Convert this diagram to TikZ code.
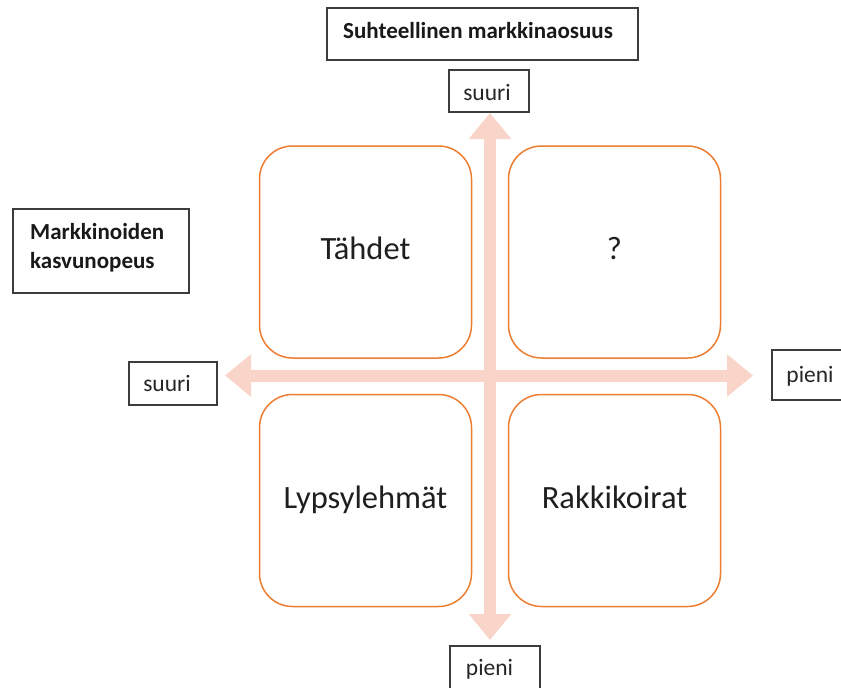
\documentclass[tikz,border=0pt]{standalone}
\usepackage{fontspec}
\setmainfont{Carlito}
\usetikzlibrary{arrows.meta}
\definecolor{acc}{RGB}{237,125,49}
\definecolor{arr}{RGB}{248,213,200}
\definecolor{frame}{RGB}{60,60,60}
\begin{document}
\begin{tikzpicture}[x=1pt,y=-1pt,
  lbox/.style={draw=frame, line width=1.3pt, fill=white, inner sep=0pt},
  qbox/.style={draw=acc, line width=1.5pt, fill=white, rounded corners=33pt,
    minimum width=212pt, minimum height=212pt, inner sep=0pt},
  smalltxt/.style={font=\fontsize{23.5}{28}\selectfont, inner sep=0pt, anchor=base, text=black!85},
  boldtxt/.style={font=\fontsize{23}{29}\selectfont\bfseries, inner sep=0pt, anchor=base west, text=black!90},
  bigtxt/.style={font=\fontsize{32.5}{39}\selectfont, inner sep=0pt, anchor=base, text=black!88},
  axis/.style={draw=arr, line width=12pt,
    {Triangle[length=26pt,width=41pt]}-{Triangle[length=26pt,width=41pt]}}
]
\useasboundingbox (0,0) rectangle (841,688);

% axes
\coordinate (vtop) at (490,113);
\coordinate (vbot) at (490,640);
\coordinate (hleft) at (225,375.5);
\coordinate (hright) at (753,375.5);
\draw[axis] (vbot) -- (vtop);
\draw[axis] (hleft) -- (hright);

% quadrants
\node[qbox] (q1) at (365.5,252) {};
\node[qbox] (q2) at (614.5,252) {};
\node[qbox] (q3) at (365.5,500.5) {};
\node[qbox] (q4) at (614.5,500.5) {};
\node[bigtxt] (t1) at (365.5,259.5) {Tähdet};
\node[bigtxt] (t2) at (614.5,259.5) {?};
\node[bigtxt] (t3) at (365.5,508) {Lypsylehmät};
\node[bigtxt] (t4) at (614.5,508) {Rakkikoirat};

% label boxes
\node[lbox, minimum width=311pt, minimum height=52pt] (titlebox) at (482.5,34) {};
\node[boldtxt] (title) at (343,38) {Suhteellinen markkinaosuus};

\node[lbox, minimum width=176pt, minimum height=84pt] (growbox) at (101,251) {};
\node[boldtxt] (grow1) at (30,239) {Markkinoiden};
\node[boldtxt] (grow2) at (30,268) {kasvunopeus};

\node[lbox, minimum width=80pt, minimum height=42pt] (topbox) at (489,91) {};
\node[smalltxt] (toptxt) at (487,100) {suuri};

\node[lbox, minimum width=88pt, minimum height=43pt] (leftbox) at (173,383.5) {};
\node[smalltxt] (lefttxt) at (167,391) {suuri};

\node[lbox, minimum width=74pt, minimum height=50pt] (rightbox) at (809,375) {};
\node[smalltxt] (righttxt) at (810,382) {pieni};

\node[lbox, minimum width=90pt, minimum height=46pt] (botbox) at (495,669) {};
\node[smalltxt] (bottxt) at (489.5,675) {pieni};
\end{tikzpicture}
\end{document}
